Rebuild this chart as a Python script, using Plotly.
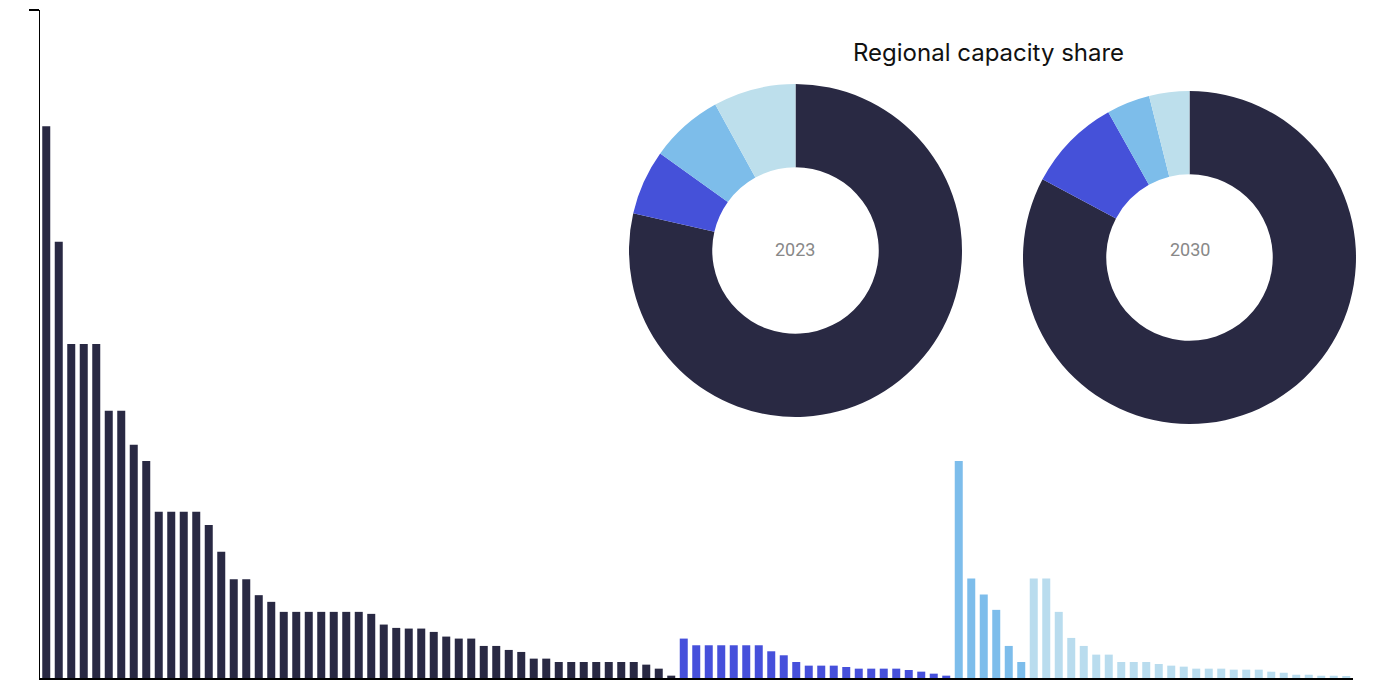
import plotly.graph_objects as go

# ---- Data ----
dark_vals = [82.6, 65.3, 50, 50, 50, 40, 40, 34.9, 32.5, 24.9, 24.9, 24.9, 24.9, 22.9, 18.9,
             14.8, 14.8, 12.4, 11.4, 9.9, 9.9, 9.9, 9.9, 9.9, 9.9, 9.9, 9.6, 8.0, 7.5, 7.4,
             7.4, 6.9, 6.2, 5.9, 5.9, 4.8, 4.8, 4.2, 3.9, 2.9, 2.9, 2.4, 2.4, 2.4, 2.4, 2.4,
             2.4, 2.4, 2.0, 1.4, 0.35]
blue_vals = [5.9, 4.9, 4.9, 4.9, 4.9, 4.9, 4.9, 4.0, 3.4, 2.4, 1.85, 1.85, 1.85, 1.65, 1.4,
             1.4, 1.4, 1.4, 1.2, 0.95, 0.65, 0.35]
mid_vals = [32.5, 14.9, 12.5, 10.2, 4.8, 2.4]
light_vals = [14.9, 14.9, 9.9, 6.0, 4.8, 3.5, 3.5, 2.4, 2.4, 2.4, 2.1, 1.85, 1.7, 1.4, 1.4,
              1.4, 1.25, 1.25, 1.25, 0.95, 0.8, 0.5, 0.5, 0.35, 0.35, 0.2]

regions = ["Region A", "Region B", "Region C", "Region D"]
share_2023 = [78.6, 6.3, 7.1, 8.0]
share_2030 = [82.7, 9.1, 4.2, 3.9]
years = ["2023", "2030"]

colors = ["#292943", "#4551D9", "#7DBDEA", "#BDDFEC"]
bar_colors = ["#292943", "#4650DB", "#7DBDEB", "#B9DCEE"]

# ---- Build ----
groups = [dark_vals, blue_vals, mid_vals, light_vals]
x_all, y_all, c_all = [], [], []
idx = 0
for g, col in zip(groups, bar_colors):
    for v in g:
        x_all.append(idx)
        y_all.append(v)
        c_all.append(col)
        idx += 1
n = len(x_all)

W, H = 1381, 681
ml, mr, mt, mb = 40, 20, 10, 3
pw, ph = W - ml - mr, H - mt - mb
ymax = 100.0

def px_x(p):
    return (p - ml) / pw

def px_y(p):
    return (H - mb - p) / ph

fig = go.Figure()
fig.add_trace(go.Bar(x=x_all, y=y_all, marker=dict(color=c_all, line=dict(width=0)),
                     showlegend=False, hoverinfo="y"))

pie_specs = [
    (share_2023, 629, 962, 84, 417),
    (share_2030, 1023, 1356, 91, 424),
]
for (vals, x0, x1, y0, y1) in pie_specs:
    fig.add_trace(go.Pie(
        labels=regions, values=vals, hole=0.5, sort=False, direction="clockwise",
        rotation=0, marker=dict(colors=colors, line=dict(width=0)),
        textinfo="none", showlegend=False,
        domain=dict(x=[px_x(x0), px_x(x1)], y=[px_y(y1), px_y(y0)]),
    ))

annotations = [
    dict(text="Regional capacity share", x=px_x(988), y=px_y(53), xref="paper", yref="paper",
         showarrow=False, font=dict(family="Inter, Lato, sans-serif", size=24, color="#111111"),
         xanchor="center", yanchor="middle"),
    dict(text=years[0], x=px_x(795.5), y=px_y(250), xref="paper", yref="paper",
         showarrow=False, font=dict(family="Roboto, sans-serif", size=18, color="#888888"),
         xanchor="center", yanchor="middle"),
    dict(text=years[1], x=px_x(1189.5), y=px_y(250), xref="paper", yref="paper",
         showarrow=False, font=dict(family="Roboto, sans-serif", size=18, color="#888888"),
         xanchor="center", yanchor="middle"),
]

fig.update_layout(
    width=W, height=H,
    margin=dict(l=ml, r=mr, t=mt, b=mb, pad=0),
    paper_bgcolor="white", plot_bgcolor="white",
    bargap=0.36,
    annotations=annotations,
    xaxis=dict(domain=[0, 1312.5 / pw], range=[-0.5, n - 0.5], showgrid=False, zeroline=False,
               showticklabels=False, ticks="", showline=True, linecolor="#000000", linewidth=2,
               fixedrange=True),
    yaxis=dict(range=[0, ymax], showgrid=False, zeroline=False, showticklabels=False,
               tickvals=[ymax], ticks="outside", ticklen=10, tickwidth=2, tickcolor="#000000",
               showline=True, linecolor="#000000", linewidth=1, fixedrange=True),
)

fig.write_html("out.html")
